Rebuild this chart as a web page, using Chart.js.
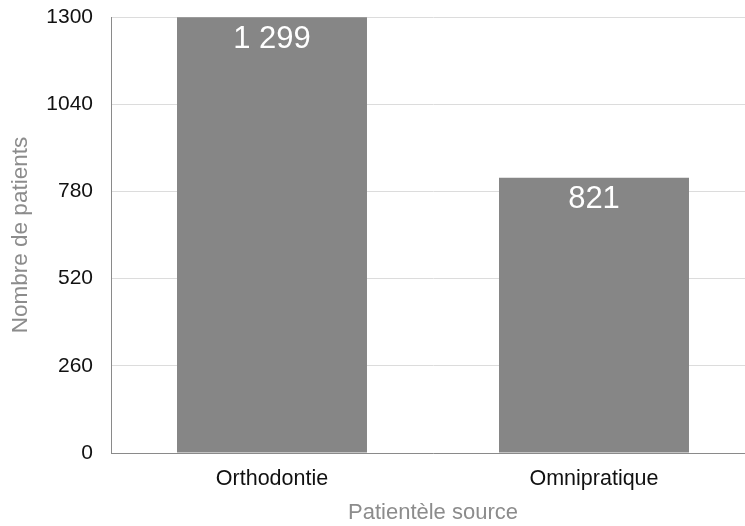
<!DOCTYPE html>
<html>
<head>
<meta charset="utf-8">
<script src="https://cdn.jsdelivr.net/npm/chart.js@4.4.0/dist/chart.umd.min.js"></script>
<style>
  html, body { margin: 0; padding: 0; background: #fff; overflow: hidden; }
</style>
</head>
<body>
<canvas id="myChart" width="755" height="526"></canvas>
<script>
const categories = ["Orthodontie", "Omnipratique"];
const patients = [1299, 821];
const yTicks = [0, 260, 520, 780, 1040, 1300];

const FONT = "'Liberation Sans', Arial, Helvetica, sans-serif";

// nombre avec espace comme séparateur de milliers
const formatValue = (v) => String(v).replace(/\B(?=(\d{3})+(?!\d))/g, " ");

const valueLabels = {
  id: "valueLabels",
  afterDatasetsDraw(chart) {
    const ctx = chart.ctx;
    const meta = chart.getDatasetMeta(0);
    ctx.save();
    ctx.fillStyle = "#ffffff";
    ctx.font = "31px " + FONT;
    ctx.textAlign = "center";
    ctx.textBaseline = "middle";
    meta.data.forEach((bar, i) => {
      ctx.fillText(formatValue(patients[i]), bar.x, bar.y + 22);
    });
    ctx.restore();
  },
};

const ctx = document.getElementById("myChart").getContext("2d");
new Chart(ctx, {
  type: "bar",
  data: {
    labels: categories,
    datasets: [
      {
        label: "Nombre de patients",
        data: patients,
        backgroundColor: "#868686",
        borderWidth: 0,
        categoryPercentage: 1,
        barPercentage: 0.59,
      },
    ],
  },
  options: {
    responsive: false,
    animation: false,
    layout: { padding: { top: 17, left: 0, right: 0, bottom: 0 } },
    plugins: {
      legend: { display: false },
      tooltip: { enabled: false },
    },
    scales: {
      x: {
        grid: { display: false },
        border: { display: true, color: "#8a8a8a", width: 1 },
        ticks: { color: "#111", font: { family: FONT, size: 21.5 }, padding: 5 },
        title: {
          display: true,
          text: "Patientèle source",
          color: "#8c8c8c",
          font: { family: FONT, size: 22 },
          padding: { top: 0, bottom: 0 },
        },
        afterFit: (scale) => { scale.height = 73; },
      },
      y: {
        min: 0,
        max: 1300,
        afterBuildTicks: (scale) => {
          scale.ticks = yTicks.map((v) => ({ value: v }));
        },
        grid: { color: "#dcdcdc", drawTicks: false, lineWidth: 1 },
        border: { display: true, color: "#8a8a8a", width: 1 },
        ticks: {
          color: "#111",
          font: { family: FONT, size: 21 },
          padding: 18,
          callback: (v) => String(v),
        },
        title: {
          display: true,
          text: "Nombre de patients",
          color: "#8c8c8c",
          font: { family: FONT, size: 22.5 },
          padding: { top: 7, bottom: 0 },
        },
        afterFit: (scale) => {
          scale.width = 111;
          scale.paddingTop = 0;
          scale.paddingBottom = 0;
        },
      },
    },
  },
  plugins: [valueLabels],
});
</script>
</body>
</html>
